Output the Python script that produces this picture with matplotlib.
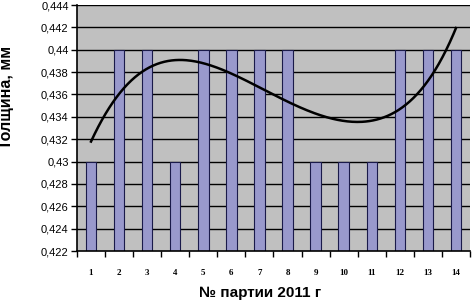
import numpy as np
import matplotlib
matplotlib.use("Agg")
import matplotlib.pyplot as plt
from matplotlib.ticker import FixedLocator, NullFormatter

party = list(range(1, 15))
thickness = [0.430, 0.440, 0.440, 0.430, 0.440, 0.440, 0.440,
             0.440, 0.430, 0.430, 0.430, 0.440, 0.440, 0.440]
# trend line
trend = [0.4317, 0.4364, 0.4379, 0.4391, 0.4389, 0.4380, 0.4366,
         0.4352, 0.4344, 0.4335, 0.4337, 0.4349, 0.4370, 0.4420]
yticks = [0.422, 0.424, 0.426, 0.428, 0.430, 0.432, 0.434,
          0.436, 0.438, 0.440, 0.442, 0.444]
ylabels = ["0,422", "0,424", "0,426", "0,428", "0,43", "0,432", "0,434",
           "0,436", "0,438", "0,44", "0,442", "0,444"]

plt.rcParams['font.family'] = ['Liberation Sans', 'DejaVu Sans']

fig = plt.figure(figsize=(4.74, 3.05), dpi=100)
ax = fig.add_axes([0.1624, 0.177, 0.8292, 0.8066])
ax.set_facecolor('#c0c0c0')

ax.set_ylim(0.422, 0.444)
ax.set_xlim(0.5, 14.5)

for y in yticks[1:]:
    ax.axhline(y, color='black', lw=1.0, zorder=1)

ax.bar(party, [t - 0.422 for t in thickness], bottom=0.422, width=0.37,
       color='#9999cc', edgecolor='#1a1a4a', lw=0.8, zorder=2)

# smooth polynomial through the read trend values
coef = np.polyfit(party, trend, 6)
xs = np.linspace(1, 14, 300)
ax.plot(xs, np.polyval(coef, xs), color='black', lw=1.8, zorder=3)

ax.set_yticks(yticks)
ax.set_yticklabels(ylabels, fontsize=8)
ax.tick_params(axis='y', direction='out', length=4, width=1, pad=2)

ax.xaxis.set_major_locator(FixedLocator(party))
ax.set_xticklabels([str(p) for p in party], fontsize=6.5, fontweight='bold',
                   family='Liberation Serif')
ax.tick_params(axis='x', which='major', length=0, pad=13)
ax.xaxis.set_minor_locator(FixedLocator([p + 0.5 for p in range(0, 15)]))
ax.xaxis.set_minor_formatter(NullFormatter())
ax.tick_params(axis='x', which='minor', direction='out', length=4, width=1)

for side in ['top', 'right']:
    ax.spines[side].set_visible(False)
ax.spines['left'].set_linewidth(1.2)
ax.spines['bottom'].set_linewidth(1.2)

fig.text(260 / 474, 1 - 293 / 305, "№ партии 2011 г", fontsize=11,
         fontweight='bold', ha='center', va='center')
fig.text(7 / 474, 1 - 97 / 305, "Толщина, мм", fontsize=11.5,
         fontweight='bold', ha='center', va='center', rotation=90)

fig.savefig("out.png", dpi=100)
